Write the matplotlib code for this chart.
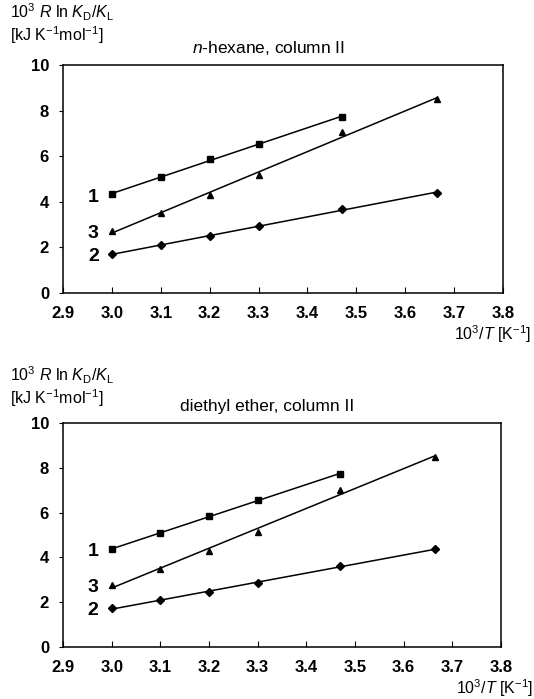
import numpy as np
import matplotlib
matplotlib.use("Agg")
import matplotlib.pyplot as plt

plt.rcParams['font.family'] = ['Liberation Sans', 'DejaVu Sans']
plt.rcParams['mathtext.fontset'] = 'custom'
plt.rcParams['mathtext.rm'] = 'Liberation Sans'
plt.rcParams['mathtext.it'] = 'Liberation Sans:italic'
plt.rcParams['mathtext.bf'] = 'Liberation Sans:bold'

# Data
x1 = [3.0, 3.1, 3.2, 3.3, 3.47]
x23 = [3.0, 3.1, 3.2, 3.3, 3.47, 3.665]

hex_s1 = [4.33, 5.08, 5.86, 6.54, 7.72]
hex_s3 = [2.73, 3.49, 4.31, 5.18, 7.07, 8.49]
hex_s2 = [1.70, 2.10, 2.50, 2.92, 3.68, 4.40]

eth_s1 = [4.37, 5.09, 5.83, 6.55, 7.74]
eth_s3 = [2.77, 3.48, 4.29, 5.15, 7.02, 8.50]
eth_s2 = [1.73, 2.08, 2.46, 2.86, 3.63, 4.36]

titles = ["$n$-hexane, column II", "diethyl ether, column II"]
xticks = [2.9, 3.0, 3.1, 3.2, 3.3, 3.4, 3.5, 3.6, 3.7, 3.8]
yticks = [0, 2, 4, 6, 8, 10]
series_labels = ["1", "3", "2"]

W, H = 534, 699
fig = plt.figure(figsize=(W / 100, H / 100), dpi=100)

def px_axes(l, t, r, b):
    return fig.add_axes([l / W, 1 - b / H, (r - l) / W, (b - t) / H])

panels = [
    (px_axes(63, 65, 503, 293), hex_s1, hex_s3, hex_s2, titles[0]),
    (px_axes(63, 423, 501, 647), eth_s1, eth_s3, eth_s2, titles[1]),
]

for ax, s1, s3, s2, title in panels:
    for xs, ys, mk, ms in [(x1, s1, 's', 4.5), (x23, s3, '^', 5), (x23, s2, 'D', 3.8)]:
        xs = np.array(xs); ys = np.array(ys)
        p = np.polyfit(xs, ys, 1)
        xl = np.array([xs[0], xs[-1]])
        ax.plot(xl, np.polyval(p, xl), color='black', lw=1.1)
        ax.plot(xs, ys, linestyle='none', marker=mk, ms=ms, color='black')
    for lab, yv in zip(series_labels, [s1[0], s3[0], s2[0]]):
        ax.text(2.973, yv - 0.12, lab, ha='right', va='center',
                fontsize=14, fontweight='bold')
    ax.set_xlim(2.9, 3.8)
    ax.set_ylim(0, 10)
    ax.set_xticks(xticks)
    ax.set_yticks(yticks)
    ax.set_xticklabels([f"{v:.1f}" for v in xticks], fontweight='bold', fontsize=12)
    ax.set_yticklabels([str(v) for v in yticks], fontweight='bold', fontsize=12)
    ax.tick_params(axis='x', direction='in', length=4, width=0.8, pad=9)
    ax.tick_params(axis='y', direction='out', length=3, width=0.8, pad=7)
    for sp in ax.spines.values():
        sp.set_linewidth(1.1)
    hpx = ax.get_position().height * H
    ax.text(0.466, 1.0 + 12 / hpx, title, transform=ax.transAxes, ha='center',
            va='baseline', fontsize=12.5)

# y-axis labels (two lines each) and x-axis labels
ylab1 = r"10$^3$ $R$ ln $K_\mathrm{D}$/$K_\mathrm{L}$"
ylab2 = r"[kJ K$^{-1}$mol$^{-1}$]"
xlab = r"10$^3$/$T$ [K$^{-1}$]"

for y_first, y_second in [(12, 35), (375, 398)]:
    fig.text(10 / W, 1 - y_first / H, ylab1, ha='left', va='center', fontsize=11.5)
    fig.text(10 / W, 1 - y_second / H, ylab2, ha='left', va='center', fontsize=11.5)

for yc, xr in [(334, 531), (688, 533)]:
    fig.text(xr / W, 1 - yc / H, xlab, ha='right', va='center', fontsize=11.5)

fig.savefig("out.png", dpi=100)
